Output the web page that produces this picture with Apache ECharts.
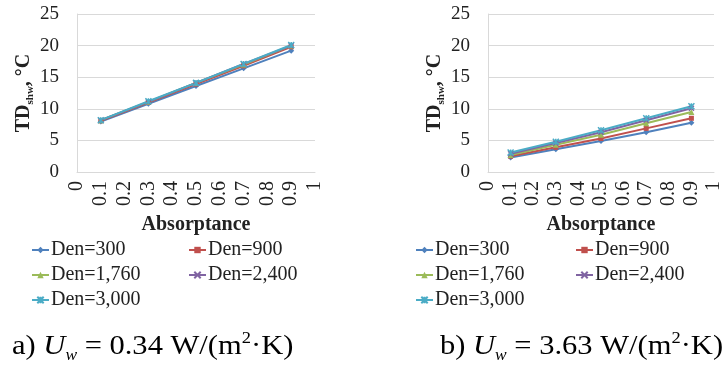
<!DOCTYPE html>
<html>
<head>
<meta charset="utf-8">
<script src="https://cdn.jsdelivr.net/npm/echarts@6/dist/echarts.min.js"></script>
<style>
  html, body { margin: 0; padding: 0; background: #fff; }
  #chart { width: 724px; height: 381px; }
</style>
</head>
<body>
<div id="chart"></div>
<script>
// Absorptance values shared by both panels
const absorptance = [0.1, 0.3, 0.5, 0.7, 0.9];
const seriesNames = ['Den=300', 'Den=900', 'Den=1,760', 'Den=2,400', 'Den=3,000'];

// Panel a) Uw = 0.34 W/(m2K): TDshw in degC
const panelA_den300  = [8.0, 10.8, 13.6, 16.4, 19.2];
const panelA_den900  = [8.1, 11.0, 13.9, 16.8, 19.8];
const panelA_den1760 = [8.2, 11.1, 14.1, 17.0, 20.0];
const panelA_den2400 = [8.2, 11.1, 14.1, 17.1, 20.0];
const panelA_den3000 = [8.2, 11.2, 14.1, 17.1, 20.1];

// Panel b) Uw = 3.63 W/(m2K): TDshw in degC
const panelB_den300  = [2.3, 3.6, 4.9, 6.3, 7.8];
const panelB_den900  = [2.5, 3.9, 5.3, 6.9, 8.5];
const panelB_den1760 = [2.7, 4.3, 5.9, 7.7, 9.5];
const panelB_den2400 = [2.9, 4.6, 6.3, 8.2, 10.1];
const panelB_den3000 = [3.1, 4.8, 6.6, 8.5, 10.4];

// Axis tick settings
const yTicks = { min: 0, max: 25, interval: 5 };
const xTicks = { min: 0, max: 1, interval: 0.1 };

const panelA = [panelA_den300, panelA_den900, panelA_den1760, panelA_den2400, panelA_den3000];
const panelB = [panelB_den300, panelB_den900, panelB_den1760, panelB_den2400, panelB_den3000];

const colors = ['#4F81BD', '#C0504D', '#9BBB59', '#8064A2', '#4BACC6'];
const symbols = [
  'diamond',
  'rect',
  'triangle',
  'path://M0,0L10,10M10,0L0,10',
  'path://M0,0L10,10M10,0L0,10M5,0L5,10'
];
const symbolSizes = [6, 5, 6, 5, 6];

const serif = 'Liberation Serif';
const textColor = '#222';
const gridColor = '#d9d9d9';

function makeXAxis(gridIndex) {
  return {
    type: 'value', gridIndex,
    min: xTicks.min, max: xTicks.max, interval: xTicks.interval,
    name: 'Absorptance', nameLocation: 'middle', nameGap: 43,
    nameTextStyle: { fontFamily: serif, fontSize: 20, fontWeight: 'bold', color: textColor },
    axisLine: { show: true, lineStyle: { color: gridColor, width: 1 } },
    axisTick: { show: false },
    splitLine: { show: false },
    axisLabel: {
      rotate: 90, margin: 9, fontFamily: serif, fontSize: 20, color: textColor,
      formatter: v => String(Math.round(v * 10) / 10)
    }
  };
}

function makeYAxis(gridIndex) {
  return {
    type: 'value', gridIndex,
    min: yTicks.min, max: yTicks.max, interval: yTicks.interval,
    name: '{b|TD}{s|shw}{b|, °C}', nameLocation: 'middle', nameGap: 40,
    nameTextStyle: {
      rich: {
        b: { fontFamily: serif, fontSize: 20, fontWeight: 'bold', color: textColor, lineHeight: 24 },
        s: { fontFamily: serif, fontSize: 11, fontWeight: 'bold', color: textColor, lineHeight: 24, verticalAlign: 'bottom' }
      }
    },
    axisLine: { show: true, lineStyle: { color: gridColor, width: 1 } },
    axisTick: { show: false },
    splitLine: { show: true, lineStyle: { color: gridColor, width: 1 } },
    axisLabel: { margin: 18, fontFamily: serif, fontSize: 19, color: textColor }
  };
}

const series = [];
[panelA, panelB].forEach((panel, gi) => {
  panel.forEach((vals, si) => {
    series.push({
      name: seriesNames[si],
      type: 'line',
      xAxisIndex: gi, yAxisIndex: gi,
      data: absorptance.map((x, k) => [x, vals[k]]),
      symbol: symbols[si],
      symbolSize: symbolSizes[si],
      showAllSymbol: true,
      lineStyle: { color: colors[si], width: 2 },
      itemStyle: { color: colors[si], borderColor: colors[si], borderWidth: si >= 3 ? 1.5 : 0 },
      animation: false
    });
  });
});

// Legend: one component per entry, laid out in two columns under each panel
const legendCols = [[31, 188], [415, 575]];
const legendRows = [240, 265, 290];
const legendCells = [[0, 0], [0, 1], [1, 0], [1, 1], [2, 0]];
const legends = [];
legendCols.forEach(cols => {
  seriesNames.forEach((name, i) => {
    const [r, c] = legendCells[i];
    legends.push({
      data: [name], left: cols[c], top: legendRows[r], padding: 0,
      itemWidth: 17, itemHeight: 8, itemGap: 0,
      selectedMode: false,
      textStyle: { fontFamily: serif, fontSize: 20, color: textColor, padding: [0, 0, 0, -3] }
    });
  });
});

const captionRich = {
  n: { fontFamily: serif, fontSize: 28, fill: '#000', lineHeight: 34 },
  i: { fontFamily: serif, fontSize: 28, fontStyle: 'italic', fill: '#000', lineHeight: 34 },
  is: { fontFamily: serif, fontSize: 16, fontStyle: 'italic', fill: '#000', lineHeight: 34, verticalAlign: 'bottom' },
  sup: { fontFamily: serif, fontSize: 17, fill: '#000', lineHeight: 34, verticalAlign: 'top' }
};

const option = {
  backgroundColor: '#fff',
  animation: false,
  color: colors,
  grid: [
    { left: 77, top: 14, width: 238, height: 158 },
    { left: 488, top: 14, width: 238, height: 158 }
  ],
  xAxis: [makeXAxis(0), makeXAxis(1)],
  yAxis: [makeYAxis(0), makeYAxis(1)],
  legend: legends,
  series,
  graphic: [
    { type: 'text', x: 12, y: 330, scaleX: 1.09,
      style: { text: '{n|a) }{i|U}{is|w}{n| = 0.34 W/(m}{sup|2}{n|·K)}', rich: captionRich } },
    { type: 'text', x: 440, y: 330, scaleX: 1.09,
      style: { text: '{n|b) }{i|U}{is|w}{n| = 3.63 W/(m}{sup|2}{n|·K)}', rich: captionRich } }
  ]
};

const chart = echarts.init(document.getElementById('chart'), null, { renderer: 'canvas' });
chart.setOption(option);
</script>
</body>
</html>
